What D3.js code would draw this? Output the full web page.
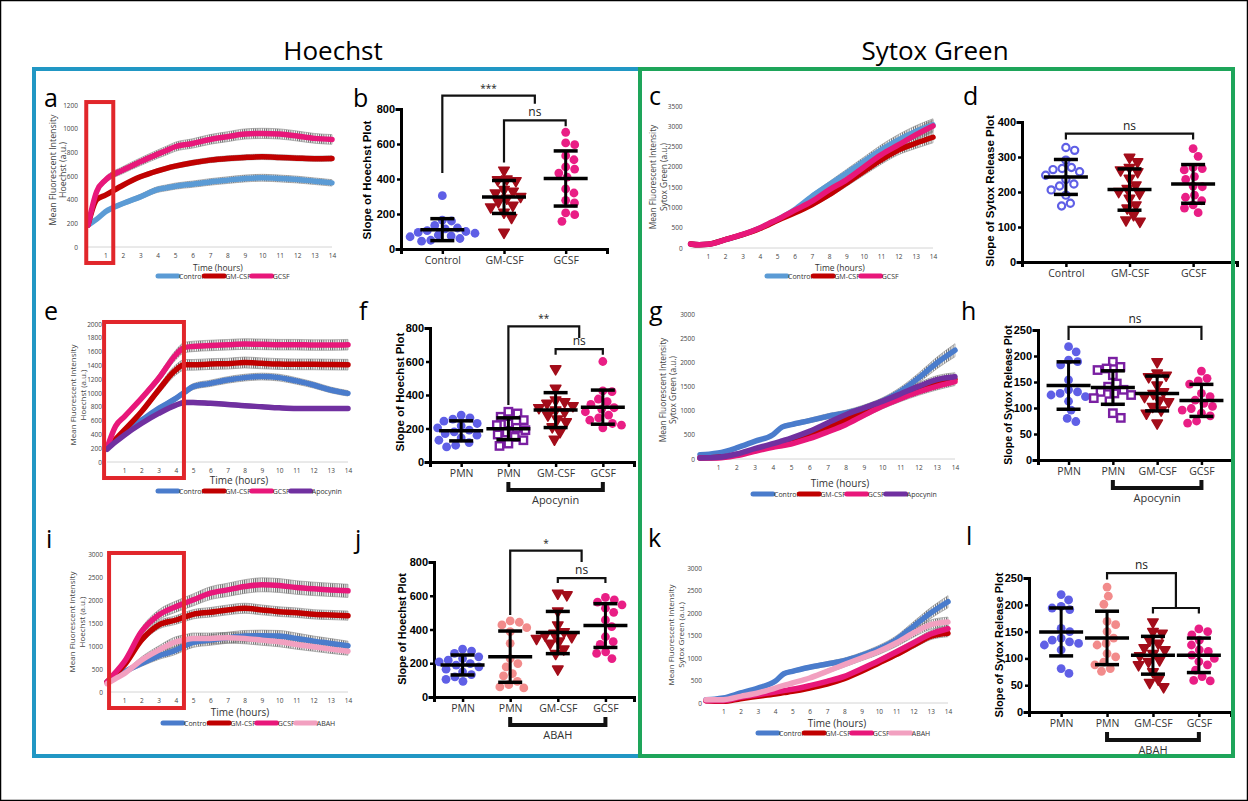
<!DOCTYPE html>
<html lang="en">
<head>
<meta charset="UTF-8">
<title>Hoechst / Sytox Green release</title>
<script src="https://d3js.org/d3.v7.min.js"></script>
<style>
  body { margin: 0; background: #fff; }
  svg { display: block; font-family: "Open Sans", sans-serif; }
</style>
</head>
<body>
<svg width="1248" height="801"></svg>
<script>
// ---- time course data (hours) ----
const hours = [0, 0.5, 1, 2, 3, 4, 4.5, 5, 6, 7, 8, 9, 10, 11, 12, 13, 14];
const hourTicks = [1, 2, 3, 4, 5, 6, 7, 8, 9, 10, 11, 12, 13, 14];

const aControl = [184, 235, 297, 367, 424, 486, 500, 514, 531, 550, 565, 579, 585, 579, 570, 556, 542];
const aGM      = [185, 400, 438, 522, 593, 644, 665, 683, 712, 734, 748, 757, 762, 757, 751, 746, 748];
const aGCSF    = [185, 470, 565, 650, 720, 785, 815, 847, 875, 909, 932, 955, 960, 955, 938, 918, 909];

const cControl = [100, 80, 90, 205, 328, 492, 590, 697, 943, 1270, 1557, 1844, 2131, 2418, 2664, 2869, 3033];
const cGM      = [100, 80, 90, 205, 328, 480, 575, 680, 861, 1066, 1312, 1598, 1885, 2172, 2418, 2582, 2730];
const cGCSF    = [100, 80, 90, 205, 335, 495, 600, 700, 926, 1148, 1434, 1680, 1992, 2295, 2541, 2787, 3008];

const eControl = [204, 320, 437, 607, 777, 922, 1010, 1092, 1140, 1189, 1223, 1238, 1223, 1175, 1116, 1044, 995];
const eGM      = [200, 330, 461, 728, 1044, 1335, 1408, 1408, 1420, 1425, 1442, 1430, 1420, 1415, 1415, 1412, 1410];
const eGCSF    = [200, 520, 655, 922, 1213, 1553, 1660, 1675, 1689, 1699, 1709, 1705, 1700, 1700, 1695, 1695, 1700];
const eApo     = [184, 290, 388, 558, 704, 825, 864, 864, 850, 835, 815, 801, 786, 777, 777, 777, 775];

const gControl = [90, 100, 124, 228, 366, 503, 660, 710, 793, 883, 952, 1055, 1193, 1400, 1676, 1986, 2250];
const gGM      = [21, 25, 34, 90, 193, 297, 348, 400, 503, 641, 814, 986, 1159, 1297, 1434, 1572, 1650];
const gGCSF    = [21, 21, 21, 69, 159, 241, 275, 310, 421, 559, 710, 903, 1090, 1248, 1386, 1503, 1600];
const gApo     = [21, 25, 34, 103, 214, 317, 375, 434, 572, 745, 917, 1055, 1193, 1345, 1503, 1641, 1700];

const iControl = [218, 330, 437, 619, 786, 910, 1000, 1077, 1128, 1179, 1216, 1223, 1216, 1165, 1106, 1056, 1005];
const iGM      = [218, 400, 582, 1128, 1456, 1565, 1630, 1689, 1733, 1784, 1820, 1784, 1747, 1725, 1689, 1674, 1660];
const iGCSF    = [218, 430, 655, 1310, 1674, 1856, 1930, 2002, 2148, 2220, 2293, 2330, 2315, 2271, 2242, 2220, 2199];
const iAbah    = [182, 290, 400, 692, 910, 1092, 1130, 1165, 1165, 1179, 1165, 1128, 1092, 1034, 983, 932, 888];

const kControl = [74, 85, 111, 222, 333, 481, 650, 704, 793, 867, 941, 1059, 1207, 1407, 1704, 2000, 2250];
const kGM      = [50, 40, 37, 96, 148, 200, 230, 259, 333, 422, 541, 704, 889, 1074, 1281, 1481, 1550];
const kGCSF    = [50, 50, 52, 126, 185, 244, 275, 304, 385, 481, 593, 763, 941, 1133, 1333, 1533, 1650];
const kAbah    = [74, 74, 74, 148, 222, 333, 390, 444, 556, 704, 852, 1000, 1148, 1333, 1556, 1741, 1800];

// relative error (SD / mean) per series
const aErr = [0.05, 0.03, 0.045];
const cErr = [0.05, 0.05, 0.05];
const eErr = [0.04, 0.055, 0.045, 0.035];
const gErr = [0.06, 0.05, 0.05, 0.05];
const iErr = [0.1, 0.06, 0.065, 0.1];
const kErr = [0.06, 0.05, 0.05, 0.06];

const ticks1200 = [0, 200, 400, 600, 800, 1000, 1200];
const ticks2000 = [0, 200, 400, 600, 800, 1000, 1200, 1400, 1600, 1800, 2000];
const ticks3000 = [0, 500, 1000, 1500, 2000, 2500, 3000];
const ticks3500 = [0, 500, 1000, 1500, 2000, 2500, 3000, 3500];

// ---- slope data (scatter panels) ----
const catsCtl = ["Control", "GM-CSF", "GCSF"];
const catsPMN = ["PMN", "PMN", "GM-CSF", "GCSF"];

const bControl = [305, 165, 160, 135, 120, 115, 105, 100, 95, 90, 80, 75, 70, 60, 50, 45];
const bGM      = [450, 400, 395, 390, 340, 330, 320, 300, 290, 270, 250, 240, 210, 180, 95];
const bGCSF    = [667, 606, 596, 533, 510, 469, 457, 434, 411, 343, 320, 278, 263, 206, 196, 158];

const dControl = [327, 319, 291, 270, 267, 264, 258, 248, 236, 223, 217, 206, 191, 168, 160];
const dGM      = [299, 286, 270, 263, 258, 239, 220, 210, 201, 196, 182, 163, 154, 135, 120, 116];
const dGCSF    = [324, 302, 270, 267, 263, 244, 236, 217, 215, 191, 185, 175, 163, 154, 141];

const fPMN     = [280, 264, 256, 244, 230, 216, 204, 190, 180, 170, 160, 144, 130, 116, 100, 90];
const fPMNApo  = [300, 290, 270, 250, 230, 220, 204, 190, 176, 164, 150, 130, 110, 96];
const fGMApo   = [556, 440, 370, 360, 350, 336, 324, 310, 300, 280, 256, 240, 210, 180, 136];
const fGCSFApo = [600, 424, 420, 376, 360, 344, 324, 316, 300, 280, 264, 250, 230, 220, 204];

const hPMN     = [218, 208, 192, 189, 183, 154, 135, 131, 128, 125, 122, 113, 96, 80, 74];
const hPMNApo  = [189, 179, 176, 173, 163, 147, 141, 135, 131, 128, 125, 119, 113, 90, 81];
const hGMApo   = [189, 167, 163, 160, 144, 131, 128, 122, 115, 112, 103, 96, 90, 71];
const hGCSFApo = [171, 157, 152, 146, 128, 122, 115, 109, 103, 99, 96, 90, 85, 75, 71];

const jPMN      = [284, 272, 258, 238, 228, 218, 208, 198, 189, 179, 165, 149, 133, 119, 105, 93];
const jPMNAbah  = [451, 443, 427, 411, 387, 318, 228, 198, 179, 139, 125, 93, 73, 60, 54];
const jGMAbah   = [615, 605, 510, 427, 387, 377, 367, 357, 347, 331, 318, 284, 258, 165];
const jGCSFAbah = [590, 576, 562, 546, 526, 502, 457, 417, 357, 328, 312, 268, 258, 228];

const lPMN      = [219, 209, 197, 194, 191, 156, 150, 138, 134, 131, 128, 125, 116, 81, 72];
const lPMNAbah  = [233, 216, 201, 169, 163, 150, 138, 128, 125, 109, 103, 93, 88, 81, 76];
const lGMAbah   = [168, 150, 147, 134, 128, 120, 116, 109, 105, 97, 94, 88, 75, 61, 55, 47];
const lGCSFAbah = [155, 150, 144, 134, 125, 116, 113, 106, 100, 94, 88, 78, 66, 59, 58];

const ticks800 = [0, 200, 400, 600, 800];
const ticks400 = [0, 100, 200, 300, 400];
const ticks250 = [0, 50, 100, 150, 200, 250];

// colours
const lnBlueA = "#5b9bd5", lnBlue = "#4a7ccc", lnRed = "#c00000", lnPink = "#e8177a",
      lnPurple = "#7030a0", lnAbah = "#f2a0c0";
const sBlue = "#5f5fe6", sRed = "#a30d1a", sPink = "#e91e85", sPurple = "#7a1fa2", sSalmon = "#f28b8b";

const svg = d3.select("svg");
svg.append("rect").attr("x", 0.5).attr("y", 0.5).attr("width", 1247).attr("height", 800)
  .attr("fill", "none").attr("stroke", "#000").attr("stroke-width", 1.5);

const defs = svg.append("defs");
defs.append("pattern").attr("id", "hatch").attr("patternUnits", "userSpaceOnUse")
  .attr("width", 2.2).attr("height", 6)
  .append("rect").attr("width", 1).attr("height", 6).attr("fill", "#6a6a6a");

// ---------- line chart ----------
function lineChart(o) {
  const g = svg.append("g");
  const x = d3.scaleLinear().domain([0, 14]).range(o.xr);
  const y = d3.scaleLinear().domain([0, d3.max(o.yTicks)]).range(o.yr);

  g.append("line").attr("x1", x(0)).attr("x2", x(14)).attr("y1", y(0)).attr("y2", y(0))
    .attr("stroke", "#d4d4d4");

  g.append("g").attr("transform", `translate(${x(0)},0)`)
    .call(d3.axisLeft(y).tickValues(o.yTicks).tickFormat(d3.format("d")).tickSize(0).tickPadding(o.yPad))
    .call(a => a.select(".domain").remove())
    .attr("font-size", 6.5).attr("font-family", "Open Sans").attr("color", "#444");

  g.append("g").attr("transform", `translate(0,${y(0)})`)
    .call(d3.axisBottom(x).tickValues(hourTicks).tickSize(0).tickPadding(6))
    .call(a => a.select(".domain").remove())
    .attr("font-size", 6.5).attr("font-family", "Open Sans").attr("color", "#444");

  o.series.forEach((s, k) => {
    const e = o.err[k];
    g.append("path").datum(s.values)
      .attr("fill", "url(#hatch)").attr("stroke", "#888").attr("stroke-width", 0.6)
      .attr("d", d3.area().curve(d3.curveMonotoneX)
        .x((d, i) => x(hours[i])).y0(d => y(d * (1 - e))).y1(d => y(d * (1 + e))));
  });
  o.series.forEach(s => {
    g.append("path").datum(s.values)
      .attr("fill", "none").attr("stroke", s.color).attr("stroke-width", 5.5)
      .attr("stroke-linecap", "round")
      .attr("d", d3.line().curve(d3.curveMonotoneX).x((d, i) => x(hours[i])).y(d => y(d)));
  });

  // y title, two lines
  o.ylabel.forEach((t, i) => {
    g.append("text").attr("transform", `translate(${o.ylab[i]},${o.ylabY}) rotate(-90)`)
      .attr("text-anchor", "middle").attr("dy", "0.35em")
      .attr("font-size", o.ylabFs).attr("fill", "#444").text(t);
  });
  g.append("text").attr("x", o.time[0]).attr("y", o.time[1] + 3).attr("text-anchor", "middle")
    .attr("font-size", o.timeFs).attr("fill", "#333").text("Time (hours)");

  // legend
  let lx = o.legend[0];
  const ly = o.legend[1];
  o.series.forEach(s => {
    g.append("line").attr("x1", lx).attr("x2", lx + 20).attr("y1", ly).attr("y2", ly)
      .attr("stroke", s.color).attr("stroke-width", 5).attr("stroke-linecap", "round");
    const t = g.append("text").attr("x", lx + 21).attr("y", ly + 2.5)
      .attr("font-size", 7).attr("fill", "#333").text(s.name);
    lx += 22 + t.node().getComputedTextLength();
  });

  if (o.box) {
    g.append("rect")
      .attr("x", x(o.box.h[0])).attr("y", y(o.box.v[1]))
      .attr("width", x(o.box.h[1]) - x(o.box.h[0])).attr("height", y(o.box.v[0]) - y(o.box.v[1]))
      .attr("fill", "none").attr("stroke", "#e1262b").attr("stroke-width", 4);
  }
}

// ---------- scatter (mean ± SD) chart ----------
function swarm(vals, y, r) {
  const placed = [];
  const xs = new Array(vals.length);
  const order = vals.map((v, i) => i).sort((a, b) => vals[b] - vals[a]);
  order.forEach(i => {
    const py = y(vals[i]);
    const near = placed.filter(p => Math.abs(p.y - py) < 2 * r);
    const cands = [0];
    near.forEach(p => {
      const dx = Math.sqrt(4 * r * r - (p.y - py) ** 2);
      cands.push(p.x + dx, p.x - dx);
    });
    cands.sort((a, b) => Math.abs(a) - Math.abs(b));
    const cx = cands.find(c => near.every(p => (p.x - c) ** 2 + (p.y - py) ** 2 >= 4 * r * r - 0.01));
    placed.push({ x: cx, y: py });
    xs[i] = cx;
  });
  return xs;
}

function scatterChart(o) {
  const g = svg.append("g");
  const x = d3.scalePoint().domain(o.cats.map((c, i) => i)).range([o.x0, o.x1]).padding(o.pad);
  const y = d3.scaleLinear().domain([0, d3.max(o.yTicks)]).range([o.y0, o.y1]);
  const px = p => x(0) + p * x.step();

  g.append("g").attr("transform", `translate(0,${o.y0})`)
    .call(d3.axisBottom(x).tickSizeOuter(0).tickSize(5).tickPadding(3).tickFormat(i => o.cats[i]))
    .attr("font-size", 10.5).attr("font-family", "Open Sans").attr("color", "#000")
    .call(a => a.select(".domain").attr("stroke-width", 3))
    .call(a => a.selectAll(".tick line").attr("stroke-width", 2.5))
    .call(a => a.selectAll(".tick text").attr("fill", "#333"));

  g.append("g").attr("transform", `translate(${o.x0},0)`)
    .call(d3.axisLeft(y).tickValues(o.yTicks).tickSizeOuter(0).tickSize(4).tickPadding(2))
    .attr("font-size", 11).attr("font-family", "Liberation Sans, Arial, sans-serif")
    .attr("font-weight", "bold").attr("color", "#000")
    .call(a => a.select(".domain").attr("stroke-width", 3).attr("stroke-linecap", "square"))
    .call(a => a.selectAll(".tick line").attr("stroke-width", 2.5));

  g.append("text").attr("transform", `translate(${o.title[0]},${o.title[1]}) rotate(-90)`)
    .attr("text-anchor", "middle").attr("dy", "0.35em")
    .attr("font-family", "Liberation Sans, Arial, sans-serif").attr("font-weight", "bold")
    .attr("font-size", o.titleFs).text(o.titleText);

  o.groups.forEach((grp, i) => {
    const cx = x(i);
    const offs = swarm(grp.values, y, 4.6);
    const mg = g.append("g");
    grp.values.forEach((v, k) => {
      const mx = cx + offs[k], my = y(v);
      if (grp.mark === "circle") {
        mg.append("circle").attr("cx", mx).attr("cy", my).attr("r", 4.4).attr("fill", grp.color);
      } else if (grp.mark === "ocircle") {
        mg.append("circle").attr("cx", mx).attr("cy", my).attr("r", 3.6)
          .attr("fill", "#fff").attr("stroke", grp.color).attr("stroke-width", 2.2);
      } else if (grp.mark === "osquare") {
        mg.append("rect").attr("x", mx - 3.7).attr("y", my - 3.7).attr("width", 7.4).attr("height", 7.4)
          .attr("fill", "#fff").attr("stroke", grp.color).attr("stroke-width", 2.4);
      } else {
        mg.append("path").attr("transform", `translate(${mx},${my}) rotate(180)`)
          .attr("d", d3.symbol(d3.symbolTriangle, 48)()).attr("fill", grp.color)
          .attr("stroke", grp.color).attr("stroke-width", 1.5).attr("stroke-linejoin", "round");
      }
    });
    const m = d3.mean(grp.values), s = d3.deviation(grp.values);
    const bar = g.append("g").attr("stroke", "#000").attr("fill", "none");
    bar.append("line").attr("x1", cx).attr("x2", cx).attr("y1", y(m + s)).attr("y2", y(m - s)).attr("stroke-width", 3);
    bar.append("line").attr("x1", cx - 22).attr("x2", cx + 22).attr("y1", y(m)).attr("y2", y(m)).attr("stroke-width", 3.5);
    [m + s, m - s].forEach(v => bar.append("line").attr("x1", cx - 12).attr("x2", cx + 12)
      .attr("y1", y(v)).attr("y2", y(v)).attr("stroke-width", 3.5));
  });

  o.brackets.forEach(b => {
    g.append("path")
      .attr("d", `M${px(b.a)},${y(b.ta)}V${y(b.top)}H${px(b.b)}V${y(b.tb)}`)
      .attr("fill", "none").attr("stroke", "#111").attr("stroke-width", 2.2);
    if (b.label) {
      g.append("text").attr("x", px((b.a + b.b) / 2)).attr("y", y(b.top) - 4)
        .attr("text-anchor", "middle").attr("font-size", b.label === "ns" ? 12 : 10)
        .attr("fill", "#222").text(b.label);
    }
  });

  if (o.group) {
    const gr = o.group;
    g.append("path").attr("d", `M${px(gr.a)},${o.y0 + 20}V${o.y0 + 28}H${px(gr.b)}V${o.y0 + 20}`)
      .attr("fill", "none").attr("stroke", "#111").attr("stroke-width", 4);
    g.append("text").attr("x", px((gr.a + gr.b) / 2)).attr("y", o.y0 + 42)
      .attr("text-anchor", "middle").attr("font-size", 11).attr("fill", "#333").text(gr.label);
  }
}

// ---------- panels ----------
const hoechstLab = ["Mean Fluorescent Intensity", "Hoechst (a.u.)"];
const sytoxLab = ["Mean Fluorescent Intensity", "Sytox Green (a.u.)"];

lineChart({
  xr: [88, 332], yr: [247, 105], yTicks: ticks1200, yPad: 10, err: aErr,
  series: [{ name: "Control", color: lnBlueA, values: aControl },
           { name: "GM-CSF", color: lnRed, values: aGM },
           { name: "GCSF", color: lnPink, values: aGCSF }],
  ylabel: hoechstLab, ylab: [53, 63], ylabY: 170, ylabFs: 8.8,
  time: [218, 268], timeFs: 8.5, legend: [158, 276],
  box: { h: [-0.1, 1.45], v: [-135, 1225] }
});
lineChart({
  xr: [690.6, 933], yr: [248, 106], yTicks: ticks3500, yPad: 8, err: cErr,
  series: [{ name: "Control", color: lnBlueA, values: cControl },
           { name: "GM-CSF", color: lnRed, values: cGM },
           { name: "GCSF", color: lnPink, values: cGCSF }],
  ylabel: sytoxLab, ylab: [653, 664], ylabY: 177, ylabFs: 8.3,
  time: [840, 268], timeFs: 8.5, legend: [767, 276]
});
lineChart({
  xr: [107, 348], yr: [462, 324], yTicks: ticks2000, yPad: 5, err: eErr,
  series: [{ name: "Control", color: lnBlue, values: eControl },
           { name: "GM-CSF", color: lnRed, values: eGM },
           { name: "GCSF", color: lnPink, values: eGCSF },
           { name: "Apocynin", color: lnPurple, values: eApo }],
  ylabel: hoechstLab, ylab: [73, 83], ylabY: 395, ylabFs: 8,
  time: [239, 481], timeFs: 10, legend: [158, 491],
  box: { h: [-0.17, 4.47], v: [-232, 2029] }
});
lineChart({
  xr: [700, 955], yr: [459, 314], yTicks: ticks3000, yPad: 5, err: gErr,
  series: [{ name: "Control", color: lnBlue, values: gControl },
           { name: "GM-CSF", color: lnRed, values: gGM },
           { name: "GCSF", color: lnPink, values: gGCSF },
           { name: "Apocynin", color: lnPurple, values: gApo }],
  ylabel: sytoxLab, ylab: [663, 673], ylabY: 390, ylabFs: 8.3,
  time: [840, 484], timeFs: 10, legend: [753, 494]
});
lineChart({
  xr: [107, 348], yr: [692, 554], yTicks: ticks3000, yPad: 4, err: iErr,
  series: [{ name: "Control", color: lnBlue, values: iControl },
           { name: "GM-CSF", color: lnRed, values: iGM },
           { name: "GCSF", color: lnPink, values: iGCSF },
           { name: "ABAH", color: lnAbah, values: iAbah }],
  ylabel: hoechstLab, ylab: [72, 82], ylabY: 622, ylabFs: 8,
  time: [240, 713], timeFs: 10, legend: [163, 723],
  box: { h: [0.12, 4.47], v: [-348, 3022] }
});
lineChart({
  xr: [706, 948], yr: [703, 568], yTicks: ticks3000, yPad: 4, err: kErr,
  series: [{ name: "Control", color: lnBlue, values: kControl },
           { name: "GM-CSF", color: lnRed, values: kGM },
           { name: "GCSF", color: lnPink, values: kGCSF },
           { name: "ABAH", color: lnAbah, values: kAbah }],
  ylabel: sytoxLab, ylab: [671, 681], ylabY: 635, ylabFs: 8,
  time: [837, 724], timeFs: 10, legend: [758, 733]
});

const hoechstSlope = "Slope of Hoechst Plot";
const sytoxSlope = "Slope of Sytox Release Plot";

scatterChart({
  cats: catsCtl, x0: 401, x1: 607, pad: 0.67, y0: 249, y1: 109, yTicks: ticks800,
  title: [367, 180], titleFs: 11.5, titleText: hoechstSlope,
  groups: [{ values: bControl, color: sBlue, mark: "circle" },
           { values: bGM, color: sRed, mark: "tri" },
           { values: bGCSF, color: sPink, mark: "circle" }],
  brackets: [{ a: 0, b: 1.5, top: 876, ta: 434, tb: 830, label: "***" },
             { a: 1, b: 2, top: 735, ta: 495, tb: 701, label: "ns" }]
});
scatterChart({
  cats: catsCtl, x0: 1022, x1: 1237, pad: 0.69, y0: 262, y1: 122, yTicks: ticks400,
  title: [990, 191], titleFs: 11.5, titleText: sytoxSlope,
  groups: [{ values: dControl, color: sBlue, mark: "ocircle" },
           { values: dGM, color: sRed, mark: "tri" },
           { values: dGCSF, color: sPink, mark: "circle" }],
  brackets: [{ a: 0, b: 2, top: 367, ta: 350, tb: 350, label: "ns" }]
});
scatterChart({
  cats: catsPMN, x0: 430, x1: 634, pad: 0.66, y0: 462, y1: 328, yTicks: ticks800,
  title: [400, 392], titleFs: 11.5, titleText: hoechstSlope,
  groups: [{ values: fPMN, color: sBlue, mark: "circle" },
           { values: fPMNApo, color: sPurple, mark: "osquare" },
           { values: fGMApo, color: sRed, mark: "tri" },
           { values: fGCSFApo, color: sPink, mark: "circle" }],
  brackets: [{ a: 1, b: 2.5, top: 810, ta: 340, tb: 740, label: "**" },
             { a: 2, b: 3, top: 674, ta: 640, tb: 640, label: "ns" }],
  group: { a: 1, b: 3, label: "Apocynin" }
});
scatterChart({
  cats: catsPMN, x0: 1038, x1: 1232, pad: 0.69, y0: 460, y1: 330, yTicks: ticks250,
  title: [1008, 395], titleFs: 10.6, titleText: sytoxSlope,
  groups: [{ values: hPMN, color: sBlue, mark: "circle" },
           { values: hPMNApo, color: sPurple, mark: "osquare" },
           { values: hGMApo, color: sRed, mark: "tri" },
           { values: hGCSFApo, color: sPink, mark: "circle" }],
  brackets: [{ a: 0, b: 3, top: 256, ta: 231, tb: 231, label: "ns" }],
  group: { a: 1, b: 3, label: "Apocynin" }
});
scatterChart({
  cats: catsPMN, x0: 434, x1: 634, pad: 0.6, y0: 697, y1: 562, yTicks: ticks800,
  title: [402, 629], titleFs: 10.8, titleText: hoechstSlope,
  groups: [{ values: jPMN, color: sBlue, mark: "circle" },
           { values: jPMNAbah, color: sSalmon, mark: "circle" },
           { values: jGMAbah, color: sRed, mark: "tri" },
           { values: jGCSFAbah, color: sPink, mark: "circle" }],
  brackets: [{ a: 1, b: 2.5, top: 867, ta: 486, tb: 800, label: "*" },
             { a: 2, b: 3, top: 705, ta: 675, tb: 675, label: "ns" }],
  group: { a: 1, b: 3, label: "ABAH" }
});
scatterChart({
  cats: catsPMN, x0: 1029, x1: 1231, pad: 0.7, y0: 712, y1: 578, yTicks: ticks250,
  title: [999, 645], titleFs: 11, titleText: sytoxSlope,
  groups: [{ values: lPMN, color: sBlue, mark: "circle" },
           { values: lPMNAbah, color: sSalmon, mark: "circle" },
           { values: lGMAbah, color: sRed, mark: "tri" },
           { values: lGCSFAbah, color: sPink, mark: "circle" }],
  brackets: [{ a: 1, b: 2.5, top: 259, ta: 247, tb: 194, label: "ns" },
             { a: 2, b: 3, top: 194, ta: 184, tb: 184 }],
  group: { a: 1, b: 3, label: "ABAH" }
});

// frames, titles, panel letters
svg.append("rect").attr("x", 34).attr("y", 69).attr("width", 606).attr("height", 687)
  .attr("fill", "none").attr("stroke", "#2197c4").attr("stroke-width", 4);
svg.append("rect").attr("x", 640).attr("y", 69).attr("width", 593).attr("height", 687)
  .attr("fill", "none").attr("stroke", "#1ea55a").attr("stroke-width", 4);

svg.append("text").attr("x", 333).attr("y", 60).attr("text-anchor", "middle")
  .attr("font-size", 26).text("Hoechst");
svg.append("text").attr("x", 935).attr("y", 60).attr("text-anchor", "middle")
  .attr("font-size", 26).text("Sytox Green");

const letters = [["a", 44, 107], ["b", 353, 107], ["c", 649, 105], ["d", 963, 105],
                 ["e", 44, 320], ["f", 359, 320], ["g", 649, 320], ["h", 961, 320],
                 ["i", 46, 548], ["j", 355, 548], ["k", 648, 547], ["l", 966, 545]];
svg.selectAll(".letter").data(letters).join("text").attr("class", "letter")
  .attr("x", d => d[1]).attr("y", d => d[2])
  .attr("font-size", 25).attr("fill", "#000").text(d => d[0]);
</script>
</body>
</html>
